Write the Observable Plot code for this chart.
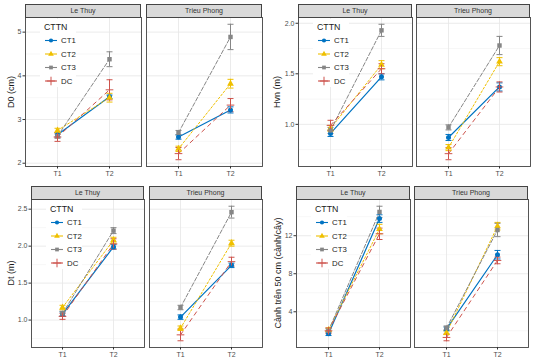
<!DOCTYPE html>
<html>
<head>
<meta charset="utf-8">
<script src="https://cdn.jsdelivr.net/npm/d3@7"></script>
<script src="https://cdn.jsdelivr.net/npm/@observablehq/plot@0.6"></script>
<style>
  html, body { margin: 0; padding: 0; background: #fff; }
  #root { position: relative; width: 533px; height: 362px; overflow: hidden; background: #fff;
          font-family: "Liberation Sans", Arial, sans-serif; }
  #root svg { position: absolute; overflow: visible; }
  .strip { position: absolute; box-sizing: border-box; background: #D9D9D9; border: 0.8px solid #444;
           font-size: 7px; color: #333; text-align: center; font-weight: 400; }
  .ytitle { position: absolute; font-size: 9px; color: #1a1a1a; white-space: nowrap; font-weight: 400;
            transform: translate(-50%, -50%) rotate(-90deg); }
</style>
</head>
<body>
<div id="root"></div>
<script>
// ---------------- data ----------------
const sites = ["Le Thuy", "Trieu Phong"];
const times = ["T1", "T2"];
const treatments = ["CT1", "CT2", "CT3", "DC"];

// [site][treatment] -> [T1, T2]
const d0Mean = [
  [[2.65, 3.52], [2.75, 3.50], [2.62, 4.38], [2.60, 3.68]],
  [[2.60, 3.22], [2.33, 3.82], [2.70, 4.89], [2.22, 3.33]]
];
const d0Se = [
  [[0.05, 0.04], [0.05, 0.10], [0.05, 0.17], [0.10, 0.23]],
  [[0.05, 0.07], [0.06, 0.10], [0.05, 0.29], [0.14, 0.15]]
];
const hvnMean = [
  [[0.91, 1.47], [0.96, 1.59], [0.94, 1.93], [0.99, 1.55]],
  [[0.87, 1.37], [0.77, 1.62], [0.97, 1.78], [0.71, 1.37]]
];
const hvnSe = [
  [[0.03, 0.03], [0.03, 0.04], [0.03, 0.06], [0.05, 0.05]],
  [[0.03, 0.04], [0.03, 0.04], [0.025, 0.09], [0.06, 0.05]]
];
const dtMean = [
  [[1.08, 1.99], [1.17, 2.08], [1.09, 2.21], [1.05, 2.03]],
  [[1.04, 1.74], [0.89, 2.04], [1.17, 2.46], [0.80, 1.79]]
];
const dtSe = [
  [[0.03, 0.03], [0.03, 0.04], [0.03, 0.04], [0.04, 0.07]],
  [[0.03, 0.03], [0.03, 0.04], [0.03, 0.08], [0.08, 0.06]]
];
const branchMean = [
  [[1.7, 13.8], [2.1, 12.7], [2.0, 14.5], [2.0, 12.2]],
  [[2.2, 10.0], [1.8, 13.0], [2.3, 12.6], [1.3, 9.4]]
];
const branchSe = [
  [[0.2, 0.4], [0.2, 0.5], [0.2, 0.6], [0.3, 0.6]],
  [[0.2, 0.45], [0.2, 0.4], [0.2, 0.7], [0.35, 0.35]]
];

const d0Ticks = [2, 3, 4, 5];
const hvnTicks = [1.0, 1.5, 2.0];
const dtTicks = [1.0, 1.5, 2.0, 2.5];
const branchTicks = [4, 8, 12];

const legendTitle = "CTTN";
const yTitles = ["D0 (cm)", "Hvn (m)", "Dt (m)", "Cành trên 50 cm (cành/cây)"];

// ---------------- styles ----------------
const colors = ["#0073C2", "#EFC000", "#868686", "#CD534C"];
const dashes = [null, "2,2", "4,2", "4,4"];
const symbols = ["circle", "triangle", "square", "plus"];
const FONT = "Liberation Sans, Arial, sans-serif";

const subplots = [
  {mean: d0Mean, se: d0Se, ticks: d0Ticks, fmt: d3.format("d"), title: yTitles[0],
   panels: [[25, 141], [146, 262]], top: 17, bottom: 166, titleX: 11},
  {mean: hvnMean, se: hvnSe, ticks: hvnTicks, fmt: d3.format(".1f"), title: yTitles[1],
   panels: [[298, 412], [416, 530]], top: 17, bottom: 166, titleX: 277},
  {mean: dtMean, se: dtSe, ticks: dtTicks, fmt: d3.format(".1f"), title: yTitles[2],
   panels: [[31, 144], [149, 262]], top: 199, bottom: 347, titleX: 11},
  {mean: branchMean, se: branchSe, ticks: branchTicks, fmt: d3.format("d"), title: yTitles[3],
   panels: [[296, 410], [414, 528]], top: 199, bottom: 347, titleX: 278}
];

const root = document.getElementById("root");

const capSymbol = {
  draw(context, size) {
    const r = Math.sqrt(size / Math.PI);
    context.moveTo(-r, 0);
    context.lineTo(r, 0);
  }
};

function rowsFor(sp, s) {
  const rows = [];
  treatments.forEach((trt, k) => {
    times.forEach((t, j) => {
      const m = sp.mean[s][k][j], e = sp.se[s][k][j];
      rows.push({site: sites[s], trt, time: t, mean: m, lo: m - e, hi: m + e});
    });
  });
  return rows;
}

function drawLegend(x, y) {
  const svg = d3.create("svg")
    .attr("width", 36).attr("height", 68)
    .style("left", x + "px").style("top", y + "px");
  svg.append("rect").attr("x", 0).attr("y", 0).attr("width", 36).attr("height", 68).attr("fill", "#fff");
  svg.append("text").attr("x", 4).attr("y", 10.5).attr("font-size", 8.8)
    .attr("font-family", FONT).attr("fill", "#1a1a1a").text(legendTitle);
  treatments.forEach((trt, k) => {
    const cy = 21.5 + k * 13.5;
    const g = svg.append("g");
    g.append("line").attr("x1", 5).attr("x2", 17).attr("y1", cy).attr("y2", cy)
      .attr("stroke", colors[k]).attr("stroke-width", 1.1);
    const type = [d3.symbolCircle, d3.symbolTriangle, d3.symbolSquare, d3.symbolPlus][k];
    const path = g.append("path").attr("transform", `translate(11,${cy})`)
      .attr("d", d3.symbol(type, k === 3 ? 26 : 14)());
    if (k === 3) path.attr("fill", "none").attr("stroke", colors[k]).attr("stroke-width", 1);
    else path.attr("fill", colors[k]);
    g.append("text").attr("x", 21).attr("y", cy + 2.8).attr("font-size", 7.8)
      .attr("font-family", FONT).attr("fill", "#1a1a1a").text(trt);
  });
  root.appendChild(svg.node());
}

subplots.forEach((sp) => {
  const allRows = [...rowsFor(sp, 0), ...rowsFor(sp, 1)];
  const lo = d3.min(allRows, d => d.lo), hi = d3.max(allRows, d => d.hi);
  const pad = (hi - lo) * 0.05;
  const yDomain = [lo - pad, hi + pad];
  const step = sp.ticks[1] - sp.ticks[0];
  const minor = [];
  for (let v = sp.ticks[0] - step / 2; v <= hi + pad; v += step) {
    if (v >= lo - pad) minor.push(v);
  }
  const h = sp.bottom - sp.top;

  sp.panels.forEach(([pl, pr], s) => {
    const rows = rowsFor(sp, s);
    const w = pr - pl;
    const showY = s === 0;
    const mL = showY ? 24 : 1;
    const mB = 16;

    const marks = [
      Plot.gridY(minor, {stroke: "#F2F2F2", strokeOpacity: 1, strokeWidth: 0.6}),
      Plot.gridY(sp.ticks, {stroke: "#E6E6E6", strokeOpacity: 1, strokeWidth: 0.8}),
      Plot.gridX(times, {stroke: "#E6E6E6", strokeOpacity: 1, strokeWidth: 0.8}),
    ];
    treatments.forEach((trt, k) => {
      marks.push(Plot.line(rows.filter(d => d.trt === trt), {
        x: "time", y: "mean", stroke: colors[k], strokeWidth: k === 0 ? 1.2 : 1,
        strokeDasharray: dashes[k] || undefined
      }));
    });
    marks.push(
      Plot.ruleX(rows, {x: "time", y1: "lo", y2: "hi", stroke: "trt", strokeWidth: 1}),
      Plot.dot(rows, {x: "time", y: "hi", symbol: capSymbol, r: 3, fill: "none", stroke: "trt", strokeWidth: 1}),
      Plot.dot(rows, {x: "time", y: "lo", symbol: capSymbol, r: 3, fill: "none", stroke: "trt", strokeWidth: 1}),
      Plot.dot(rows.filter(d => d.trt !== "DC"), {x: "time", y: "mean", symbol: "trt", fill: "trt", r: 2.5}),
      Plot.dot(rows.filter(d => d.trt === "DC"), {x: "time", y: "mean", symbol: "trt", stroke: "trt", r: 2.6, strokeWidth: 1}),
      Plot.frame({stroke: "#444", strokeWidth: 0.9}),
      Plot.axisX({tickSize: 2.5, tickPadding: 2, fontSize: 7, fill: "#4D4D4D", stroke: "#333", label: null})
    );
    if (showY) {
      marks.push(Plot.axisY({ticks: sp.ticks, tickFormat: sp.fmt, tickSize: 2.5, tickPadding: 1.5,
        fontSize: 7, fill: "#4D4D4D", stroke: "#333", label: null}));
    }

    const chart = Plot.plot({
      width: w + mL + 1,
      height: h + 1 + mB,
      marginLeft: mL, marginRight: 1, marginTop: 1, marginBottom: mB,
      style: {fontFamily: FONT, background: "transparent", overflow: "visible"},
      x: {type: "point", domain: times, padding: 0.6, axis: null},
      y: {domain: yDomain, axis: null},
      color: {domain: treatments, range: colors},
      symbol: {domain: treatments, range: symbols},
      marks
    });
    chart.style.left = (pl - mL) + "px";
    chart.style.top = (sp.top - 1) + "px";
    root.appendChild(chart);

    const strip = document.createElement("div");
    strip.className = "strip";
    strip.style.left = pl + "px";
    strip.style.top = (sp.top - 13) + "px";
    strip.style.width = w + "px";
    strip.style.height = "13.5px";
    strip.style.lineHeight = "12px";
    strip.textContent = sites[s];
    root.appendChild(strip);

    if (showY) drawLegend(pl + 15, sp.top + 2);
  });

  const yt = document.createElement("div");
  yt.className = "ytitle";
  yt.style.left = sp.titleX + "px";
  yt.style.top = (sp.top + h / 2) + "px";
  yt.textContent = sp.title;
  root.appendChild(yt);
});
</script>
</body>
</html>
